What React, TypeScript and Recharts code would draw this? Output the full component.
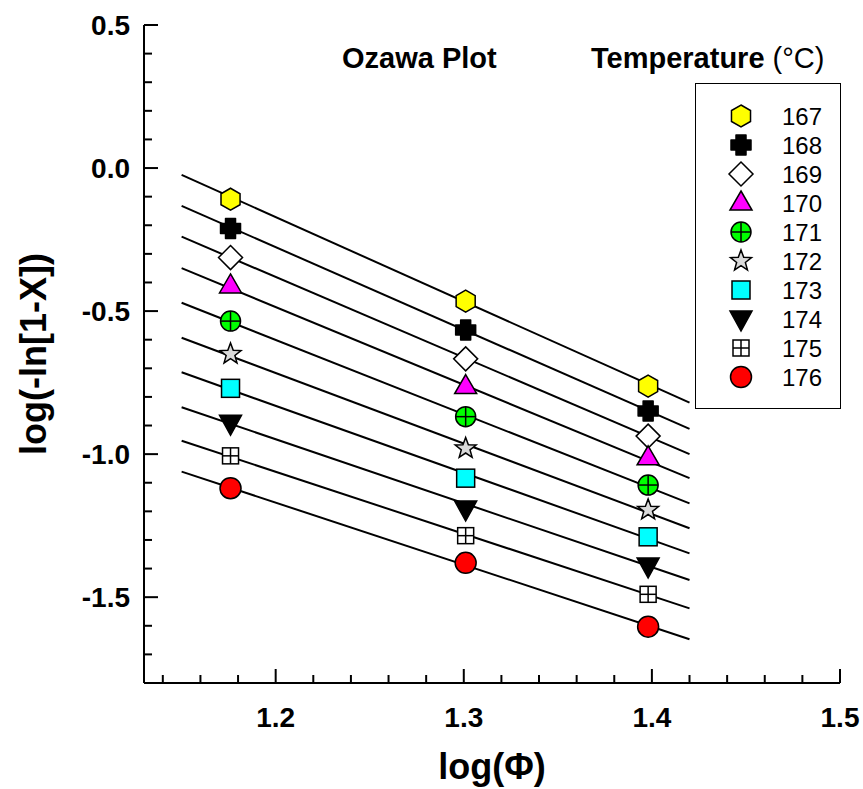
import { ScatterChart, Scatter, XAxis, YAxis, ReferenceArea } from "recharts";

// log(heating rate) for 15, 20, 25 °C/min
const logPhi = [1.176, 1.301, 1.398];
const temps = ["167", "168", "169", "170", "171", "172", "173", "174", "175", "176"];

// log(-ln[1-X]) for each temperature
const yAt15 = [-0.109, -0.211, -0.313, -0.412, -0.535, -0.65, -0.77, -0.892, -1.006, -1.119];
const yAt20 = [-0.465, -0.566, -0.667, -0.764, -0.869, -0.98, -1.084, -1.192, -1.285, -1.38];
const yAt25 = [-0.762, -0.849, -0.937, -1.013, -1.108, -1.195, -1.289, -1.391, -1.49, -1.603];

// straight-line fits: ends of each line
const fitX = [1.15, 1.42];
const fitStart = [-0.024, -0.132, -0.24, -0.35, -0.471, -0.593, -0.714, -0.836, -0.953, -1.061];
const fitEnd = [-0.82, -0.912, -1.0, -1.084, -1.172, -1.259, -1.347, -1.44, -1.539, -1.647];

const xMajor = [1.2, 1.3, 1.4, 1.5];
const xTicks = [1.14, 1.16, 1.18, 1.2, 1.22, 1.24, 1.26, 1.28, 1.3, 1.32, 1.34, 1.36, 1.38, 1.4, 1.42, 1.44, 1.46, 1.48, 1.5];
const yMajor = [-1.5, -1.0, -0.5, 0, 0.5];
const yTicks = [-1.7, -1.6, -1.5, -1.4, -1.3, -1.2, -1.1, -1.0, -0.9, -0.8, -0.7, -0.6, -0.5, -0.4, -0.3, -0.2, -0.1, 0, 0.1, 0.2, 0.3, 0.4, 0.5];

const FONT = '"Liberation Sans", Arial, Helvetica, sans-serif';

const isIn = (arr: number[], v: number) => arr.some((m) => Math.abs(m - v) < 1e-6);

function Marker({ kind, cx, cy }: { kind: number; cx: number; cy: number }) {
  const s = { stroke: "#000", strokeWidth: 1.5 };
  switch (kind) {
    case 0: {
      const pts = [-90, -30, 30, 90, 150, 210]
        .map((a) => `${cx + 11 * Math.cos((a * Math.PI) / 180)},${cy + 11 * Math.sin((a * Math.PI) / 180)}`)
        .join(" ");
      return <polygon points={pts} fill="#ffff00" {...s} />;
    }
    case 1: {
      const a = 5, b = 10;
      const pts = [
        [-a, -b], [a, -b], [a, -a], [b, -a], [b, a], [a, a], [a, b], [-a, b], [-a, a], [-b, a], [-b, -a], [-a, -a],
      ]
        .map(([dx, dy]) => `${cx + dx},${cy + dy}`)
        .join(" ");
      return <polygon points={pts} fill="#000" stroke="#000" strokeWidth={1.5} strokeLinejoin="round" />;
    }
    case 2:
      return <polygon points={`${cx},${cy - 12} ${cx + 12},${cy} ${cx},${cy + 12} ${cx - 12},${cy}`} fill="#fff" {...s} />;
    case 3:
      return <polygon points={`${cx},${cy - 12} ${cx + 11},${cy + 7} ${cx - 11},${cy + 7}`} fill="#ff00ff" {...s} />;
    case 4:
      return (
        <g>
          <circle cx={cx} cy={cy} r={10} fill="#00ff00" {...s} />
          <line x1={cx - 10} x2={cx + 10} y1={cy} y2={cy} {...s} />
          <line x1={cx} x2={cx} y1={cy - 10} y2={cy + 10} {...s} />
        </g>
      );
    case 5: {
      const pts: string[] = [];
      for (let k = 0; k < 10; k++) {
        const r = k % 2 === 0 ? 11 : 4.6;
        const ang = ((-90 + k * 36) * Math.PI) / 180;
        pts.push(`${cx + r * Math.cos(ang)},${cy + r * Math.sin(ang)}`);
      }
      return <polygon points={pts.join(" ")} fill="#d9d9d9" {...s} strokeLinejoin="miter" />;
    }
    case 6:
      return <rect x={cx - 9} y={cy - 9} width={18} height={18} fill="#00ffff" {...s} />;
    case 7:
      return <polygon points={`${cx - 11},${cy - 8} ${cx + 11},${cy - 8} ${cx},${cy + 12}`} fill="#000" {...s} />;
    case 8:
      return (
        <g>
          <rect x={cx - 8} y={cy - 8} width={16} height={16} fill="#fff" {...s} />
          <line x1={cx - 8} x2={cx + 8} y1={cy} y2={cy} {...s} />
          <line x1={cx} x2={cx} y1={cy - 8} y2={cy + 8} {...s} />
        </g>
      );
    default:
      return <circle cx={cx} cy={cy} r={10.5} fill="#ff0000" {...s} />;
  }
}

function XTick(props: any) {
  const { x, y, payload } = props;
  const major = isIn(xMajor, payload.value);
  return (
    <g>
      <line x1={x} x2={x} y1={y} y2={y - (major ? 14 : 8)} stroke="#000" strokeWidth={2} />
      {major && (
        <text x={x} y={y + 44} textAnchor="middle" fontFamily={FONT} fontWeight="bold" fontSize={28} fill="#000">
          {payload.value.toFixed(1)}
        </text>
      )}
    </g>
  );
}

function YTick(props: any) {
  const { x, y, payload } = props;
  const major = isIn(yMajor, payload.value);
  return (
    <g>
      <line x1={x} x2={x + (major ? 14 : 8)} y1={y} y2={y} stroke="#000" strokeWidth={2} />
      {major && (
        <text x={x - 14} y={y + 10} textAnchor="end" fontFamily={FONT} fontWeight="bold" fontSize={28} fill="#000">
          {payload.value.toFixed(1)}
        </text>
      )}
    </g>
  );
}

function LegendBox() {
  return (
    <div
      style={{
        position: "absolute",
        left: 695,
        top: 83,
        width: 146,
        height: 326,
        border: "1.5px solid #000",
        boxSizing: "border-box",
        background: "#fff",
      }}
    >
      <svg width={143} height={323} style={{ display: "block" }}>
        {temps.map((t, i) => (
          <g key={t}>
            <Marker kind={i} cx={45} cy={32 + 29 * i} />
            <text x={86} y={40.5 + 29 * i} fontFamily={FONT} fontSize={24} fill="#000">
              {t}
            </text>
          </g>
        ))}
      </svg>
    </div>
  );
}

export default function App() {
  const series = temps.map((t, i) => ({
    name: t,
    points: [
      { x: logPhi[0], y: yAt15[i] },
      { x: logPhi[1], y: yAt20[i] },
      { x: logPhi[2], y: yAt25[i] },
    ],
    fit: [
      { x: fitX[0], y: fitStart[i] },
      { x: fitX[1], y: fitEnd[i] },
    ],
  }));

  return (
    <div style={{ position: "absolute", left: 0, top: 0, width: 863, height: 789, background: "#fff" }}>
      <ScatterChart width={863} height={789} margin={{ top: 25, right: 23, bottom: 0, left: 0 }}>
        <XAxis
          type="number"
          dataKey="x"
          domain={[1.13, 1.5]}
          allowDataOverflow
          ticks={xTicks}
          interval={0}
          tick={<XTick />}
          tickLine={false}
          tickSize={0}
          tickMargin={0}
          height={106}
          axisLine={{ stroke: "#000", strokeWidth: 2 }}
          label={{
            content: ({ viewBox }: any) => (
              <text
                x={viewBox.x + viewBox.width / 2}
                y={viewBox.y + 96}
                textAnchor="middle"
                fontFamily={FONT}
                fontWeight="bold"
                fontSize={36}
                fill="#000"
              >
                log(Φ)
              </text>
            ),
          }}
        />
        <YAxis
          type="number"
          dataKey="y"
          domain={[-1.8, 0.5]}
          allowDataOverflow
          ticks={yTicks}
          interval={0}
          tick={<YTick />}
          tickLine={false}
          tickSize={0}
          tickMargin={0}
          width={144}
          axisLine={{ stroke: "#000", strokeWidth: 2 }}
          label={{
            content: ({ viewBox }: any) => {
              const cx = 33;
              const cy = viewBox.y + viewBox.height / 2;
              return (
                <text
                  x={cx}
                  y={cy}
                  transform={`rotate(-90 ${cx} ${cy})`}
                  textAnchor="middle"
                  dominantBaseline="central"
                  fontFamily={FONT}
                  fontWeight="bold"
                  fontSize={36}
                  fill="#000"
                >
                  log(-ln[1-X])
                </text>
              );
            },
          }}
        />
        <ReferenceArea fill="none" stroke="#000" strokeWidth={2} fillOpacity={0} ifOverflow="visible" />
        {series.map((s) => (
          <Scatter
            key={`fit-${s.name}`}
            data={s.fit}
            line={{ stroke: "#000", strokeWidth: 2 }}
            shape={() => <g />}
            isAnimationActive={false}
            legendType="none"
          />
        ))}
        {series.map((s, i) => (
          <Scatter
            key={`pts-${s.name}`}
            name={s.name}
            data={s.points}
            shape={(p: any) => <Marker kind={i} cx={p.cx} cy={p.cy} />}
            isAnimationActive={false}
          />
        ))}
      </ScatterChart>
      <div
        style={{
          position: "absolute",
          left: 342,
          top: 42,
          fontFamily: FONT,
          fontWeight: "bold",
          fontSize: 29,
          whiteSpace: "nowrap",
          lineHeight: "33px",
        }}
      >
        Ozawa Plot
      </div>
      <div
        style={{
          position: "absolute",
          left: 591,
          top: 42,
          fontFamily: FONT,
          fontWeight: "bold",
          fontSize: 29,
          whiteSpace: "nowrap",
          lineHeight: "33px",
        }}
      >
        Temperature <span style={{ fontWeight: "normal" }}>(°C)</span>
      </div>
      <LegendBox />
    </div>
  );
}
